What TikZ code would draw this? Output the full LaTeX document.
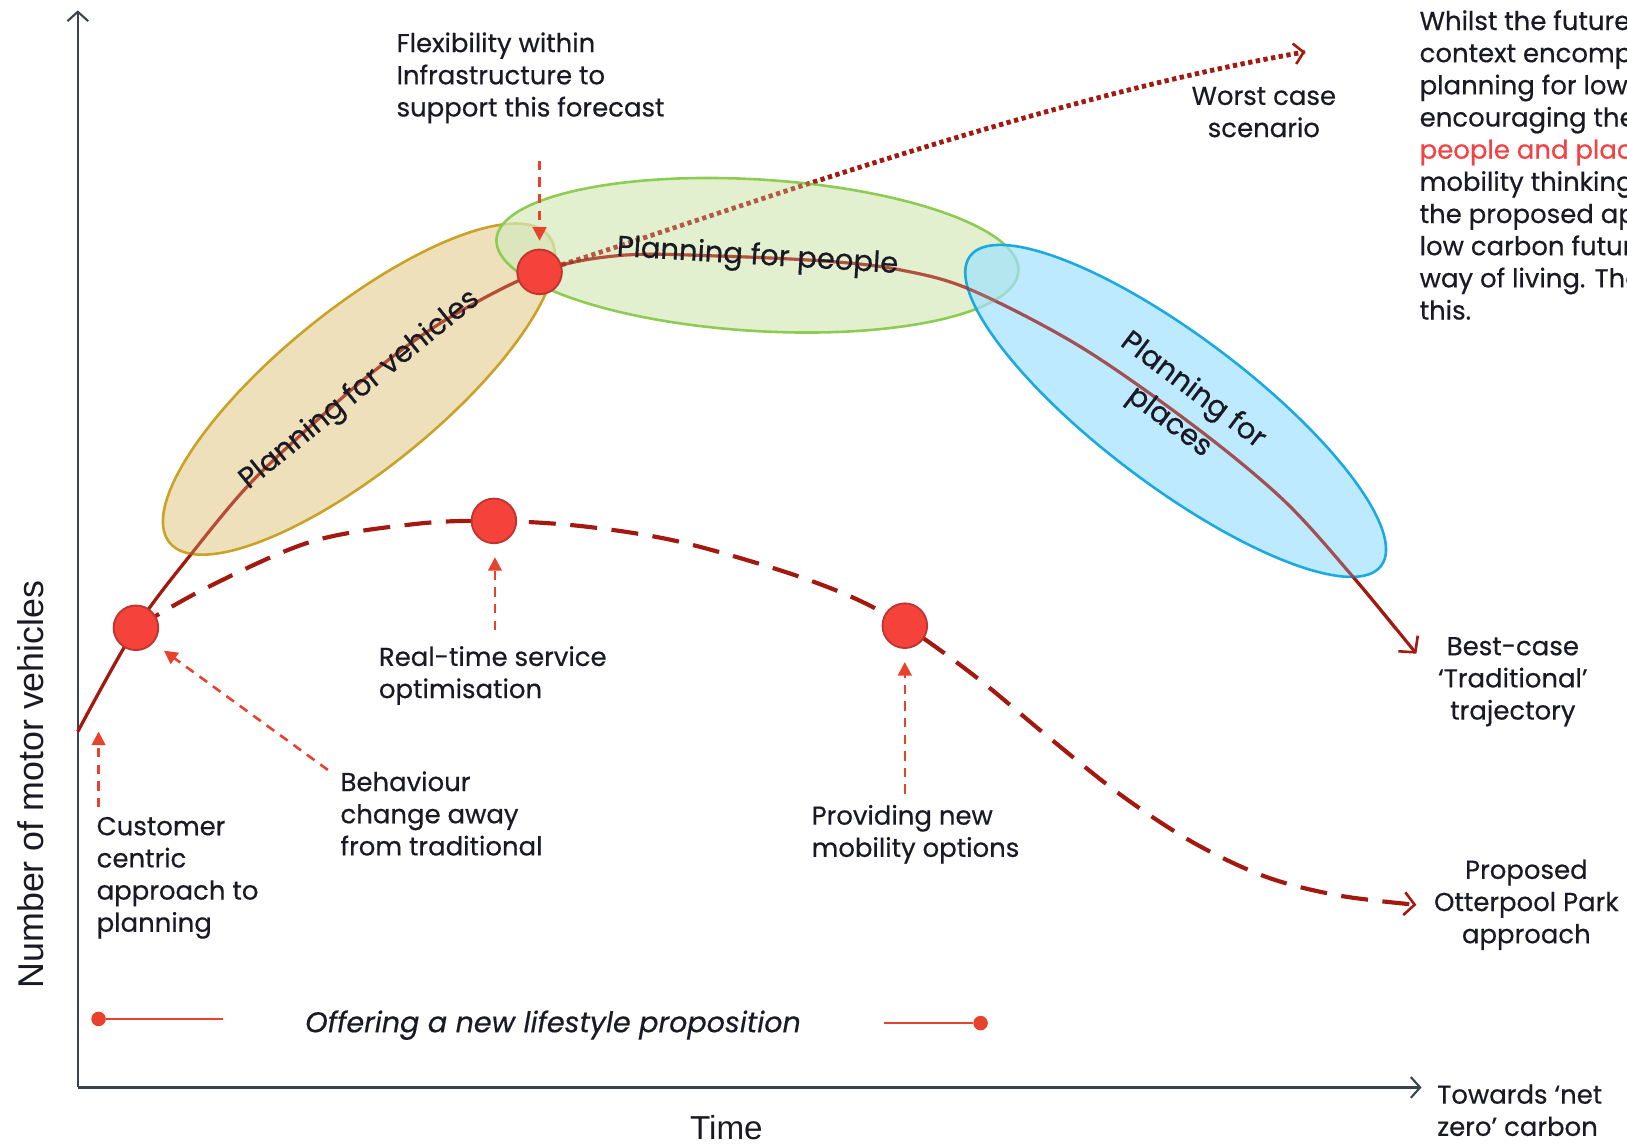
\documentclass[tikz,border=0pt]{standalone}
\usepackage{fontspec}
\setmainfont{Poppins}[FakeBold=0.5]
\newfontfamily\axisfont{Liberation Sans}
\usetikzlibrary{arrows.meta,shapes.geometric}
\definecolor{axisc}{HTML}{3B424C}
\definecolor{curvec}{HTML}{A3180F}
\definecolor{accent}{HTML}{E8412C}
\definecolor{dotfill}{HTML}{F5423A}
\definecolor{dotdraw}{HTML}{BE3630}
\definecolor{txt}{HTML}{1A1A24}
\definecolor{redtxt}{HTML}{F04444}
\definecolor{tanf}{RGB}{229,211,158}
\definecolor{tand}{HTML}{C9A227}
\definecolor{greenf}{RGB}{213,234,188}
\definecolor{greend}{HTML}{8DCB52}
\definecolor{bluef}{RGB}{162,225,255}
\definecolor{blued}{HTML}{1BA9E1}
\begin{document}
\begin{tikzpicture}[x=1pt,y=-1pt,
  lbl/.style={font=\fontsize{25}{31}\selectfont, inner sep=0pt, text=txt},
  blbl/.style={font=\fontsize{28}{38}\selectfont, inner sep=0pt, text=txt},
  axisline/.style={draw=axisc, line width=2.5pt, -{Straight Barb[length=9pt,width=20pt,line width=2pt]}},
  trend/.style={draw=curvec, line width=3pt},
  ann/.style={draw=accent, line width=2.5pt, dash pattern=on 9pt off 7pt, -{Triangle[length=13pt,width=13pt]}},
  bubble/.style={ellipse, inner sep=0pt, line width=2.5pt, fill opacity=0.7},
  marker/.style={circle, fill=dotfill, draw=dotdraw, line width=1.8pt, minimum size=43pt, inner sep=0pt},
  legdot/.style={circle, fill=accent, minimum size=14pt, inner sep=0pt}
]
\useasboundingbox (0,0) rectangle (1568,1102.5);

% coordinates
\coordinate (O) at (75,1048);
\coordinate (ytop) at (75,10);
\coordinate (xend) at (1370,1048);
\coordinate (s0) at (75,705);
\coordinate (p1) at (131,605);
\coordinate (p2) at (520,262);
\coordinate (p3) at (476,502);
\coordinate (p4) at (872,603);
\coordinate (bestend) at (1365,630);
\coordinate (propend) at (1365,872);
\coordinate (worstend) at (1258,50);

% axes
\draw[axisline] (O) -- (ytop);
\draw[axisline] (O) -- (xend);

% traditional trajectory
\draw[trend, -{Straight Barb[length=11pt,width=24pt,line width=2.5pt]}]
  plot[smooth, tension=0.55] coordinates {(s0) (p1) (185,533) (240,467) (300,410) (360,358) (430,308) (p2) (600,246) (700,247) (800,252) (867,260) (935,279) (1041,334) (1150,410) (1237,482) (1304,556) (bestend)};

% worst case dotted
\draw[draw=curvec, line width=4.5pt, dash pattern=on 4pt off 3.5pt, -{Straight Barb[length=9pt,width=20pt,line width=2.5pt]}]
  (p2) .. controls (700,205) and (1000,95) .. (worstend);

% bubbles
\node[bubble, fill=tanf, draw=tand, minimum width=470pt, minimum height=154pt, rotate=39] (veh) at (346,375) {};
\node[bubble, fill=greenf, draw=greend, minimum width=504pt, minimum height=146pt, rotate=-3.5] (peo) at (730,246) {};
\node[bubble, fill=bluef, draw=blued, minimum width=496pt, minimum height=144pt, rotate=-37] (pla) at (1133,396) {};

% lines seen through the bubbles
\draw[trend, draw opacity=0.6] plot[smooth, tension=0.55] coordinates {(s0) (p1) (185,533) (240,467) (300,410) (360,358) (430,308) (p2) (600,246) (700,247) (800,252) (867,260) (935,279) (1041,334) (1150,410) (1237,482) (1304,556) (1345,606)};
\draw[draw=curvec, draw opacity=0.55, line width=4.5pt, dash pattern=on 4pt off 3.5pt] (p2) .. controls (700,205) and (1000,95) .. (worstend);

% proposed dashed
\draw[draw=curvec, line width=4pt, dash pattern=on 26pt off 14pt, -{Straight Barb[length=10pt,width=22pt,line width=2.5pt]}]
  plot[smooth, tension=0.55] coordinates {(p1) (200,566) (300,522) (400,505) (p3) (560,507) (650,521) (750,549) (820,575) (p4) (940,652) (1010,710) (1080,766) (1150,812) (1220,845) (1290,863) (propend)};

% markers
\node[marker] (m1) at (p1) {};
\node[marker] (m2) at (p2) {};
\node[marker] (m3) at (p3) {};
\node[marker] (m4) at (p4) {};

% bubble labels
\node[blbl, rotate=39] (tveh) at (347,376) {Planning for vehicles};
\node[blbl, rotate=-3.5] (tpeo) at (730,248) {Planning for people};
\node[blbl, rotate=-37, align=center] (tpla) at (1138,392) {Planning for\\places};

% labels
\node[lbl, anchor=west, align=left] (flex) at (382,75) {Flexibility within\\Infrastructure to\\support this forecast};
\node[lbl, align=center] (worst) at (1218,108) {Worst case\\scenario};
\node[lbl, anchor=west, align=left] (real) at (365,651) {Real-time service\\optimisation};
\node[lbl, anchor=west, align=left] (beh) at (328,784) {Behaviour\\change away\\from traditional};
\node[lbl, anchor=west, align=left] (cust) at (93,846) {Customer\\centric\\approach to\\planning};
\node[lbl, anchor=west, align=left] (prov) at (782,804) {Providing new\\mobility options};
\node[lbl, align=center] (best) at (1458,657) {Best-case\\‘Traditional’\\trajectory};
\node[lbl, align=center] (prop) at (1471,872) {Proposed\\Otterpool Park\\approach};
\node[lbl, anchor=west, align=left] (tow) at (1385,1070) {Towards ‘net\\zero’ carbon};
\node[lbl, font=\axisfont\fontsize{32}{32}\selectfont] (time) at (700,1087) {Time};
\node[lbl, font=\axisfont\fontsize{34.5}{34.5}\selectfont, rotate=90] (nmv) at (30,756) {Number of motor vehicles};

% side text (cropped)
\begin{scope}
\clip (0,0) rectangle (1568,1102.5);
\node[lbl, anchor=west, align=left] (whilst) at (1368,159) {Whilst the future\\context encompasses\\planning for low\\encouraging the\\\textcolor{redtxt}{people and places}\\mobility thinking\\the proposed approach\\low carbon future\\way of living. The\\this.};
\end{scope}

% annotation arrows
\coordinate (flexfrom) at (520,155);
\coordinate (flexto) at (520,232);
\draw[ann] (flexfrom) -- (flexto);
\coordinate (realfrom) at (477,607);
\coordinate (realto) at (477,537);
\draw[ann] (realfrom) -- (realto);
\coordinate (behfrom) at (316,742);
\coordinate (behto) at (158,627);
\draw[ann] (behfrom) -- (behto);
\coordinate (custfrom) at (95,778);
\coordinate (custto) at (95,705);
\draw[ann] (custfrom) -- (custto);
\coordinate (provfrom) at (872,765);
\coordinate (provto) at (872,638);
\draw[ann] (provfrom) -- (provto);

% legend
\node[lbl, font=\fontsize{27.5}{31}\selectfont\itshape] (offer) at (533,988) {Offering a new lifestyle proposition};
\node[legdot] (ld1) at (95,982) {};
\coordinate (ll1) at (215,982);
\draw[accent, line width=2.5pt] (ld1) -- (ll1);
\node[legdot] (ld2) at (945,986) {};
\coordinate (ll2) at (852,986);
\draw[accent, line width=2.5pt] (ll2) -- (ld2);
\end{tikzpicture}
\end{document}
